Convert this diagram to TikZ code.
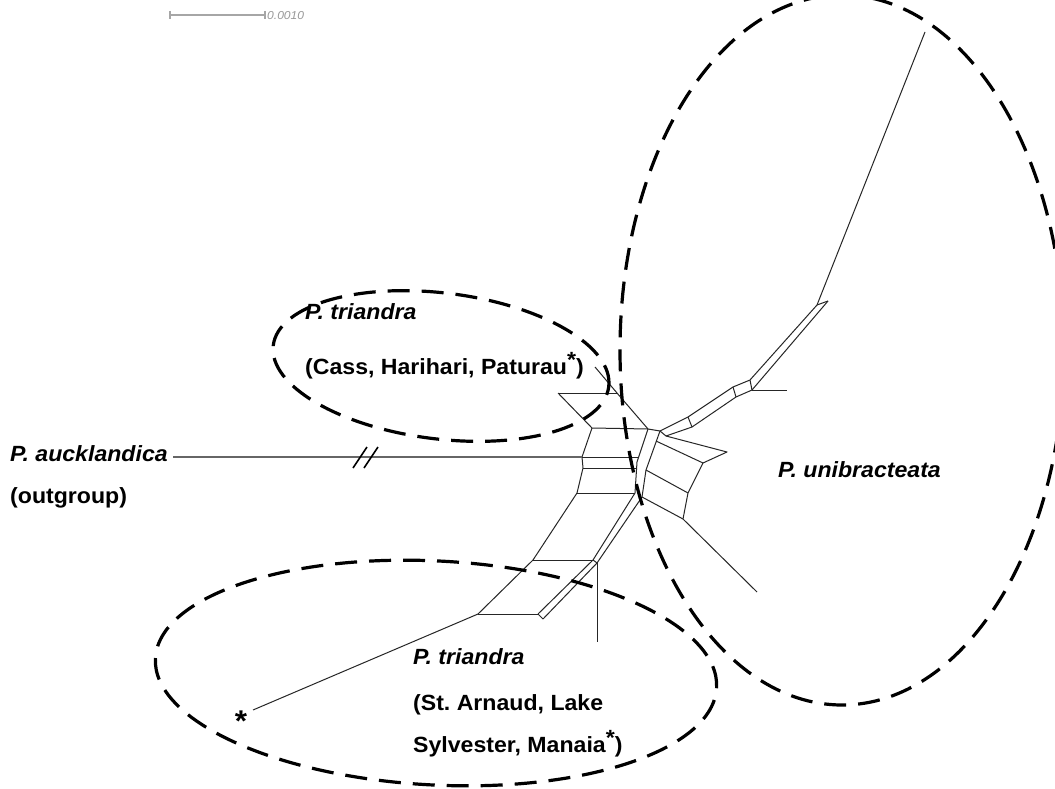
\documentclass[tikz,border=0pt]{standalone}
\usepackage{fontspec}
\setmainfont[FakeStretch=1.05]{Liberation Sans}
\usetikzlibrary{shapes.geometric}
\begin{document}
\begin{tikzpicture}[x=1pt,y=-1pt,
  net/.style={line width=1pt, draw=black!85, line join=round},
  ogline/.style={line width=1.4pt, draw=black!60},
  brk/.style={line width=1.6pt, draw=black},
  grp/.style={draw=black, line width=3.2pt, dash pattern=on 22pt off 12pt, ellipse, inner sep=0pt},
  lbl/.style={anchor=base west, inner sep=0pt, font=\fontsize{22}{26}\selectfont\bfseries},
  ital/.style={lbl, font=\fontsize{22}{26}\selectfont\bfseries\itshape},
  sbar/.style={line width=1.5pt, draw=black!35}
]
\fill[white] (0,0) rectangle (1055,789);
\useasboundingbox (0,0) rectangle (1055,789);
\clip (0,0) rectangle (1055,789);

% ---------- scale bar ----------
\coordinate (s0) at (170,15);
\coordinate (s1) at (265,15);
\draw[sbar] (s0) -- (s1);
\draw[sbar] ([yshift=4pt]s0) -- ([yshift=-4pt]s0);
\draw[sbar] ([yshift=4pt]s1) -- ([yshift=-4pt]s1);
\node[anchor=west, inner sep=0pt, text=black!40, font=\fontsize{11.5}{13}\selectfont\itshape] (scalelab) at (267,16) {0.0010};

% ---------- network coordinates ----------
\coordinate (d1) at (595,367);
\coordinate (la) at (648,429);
\coordinate (lb) at (637,462);
\coordinate (lc) at (635,493);
\coordinate (ra) at (660,431);
\coordinate (rb) at (646,470);
\coordinate (rc) at (642,497);
\coordinate (r1) at (656,441);
\coordinate (rd) at (666,436);

\coordinate (v0) at (558,393);
\coordinate (h0) at (617,393);
\coordinate (v1) at (592,428);
\coordinate (v2) at (582,457);
\coordinate (l2) at (638,457);
\coordinate (v3) at (583,468);
\coordinate (l3) at (637,468);
\coordinate (v4) at (577,493);

\coordinate (w1) at (533,560);
\coordinate (w2) at (478,614);
\coordinate (bl1) at (593,560);
\coordinate (bl2) at (538,614);
\coordinate (br1) at (597,563);
\coordinate (br2) at (543,619);
\coordinate (t1) at (597,642);
\coordinate (stip) at (253,710);

\coordinate (u1) at (688,417);
\coordinate (u2) at (733,387);
\coordinate (u3) at (750,380);
\coordinate (u4) at (817,305);
\coordinate (e1) at (692,427);
\coordinate (e2) at (736,397);
\coordinate (e3) at (752,390);
\coordinate (e4) at (828,301);
\coordinate (hb) at (787,390);
\coordinate (tip) at (925,32);

\coordinate (p1) at (727,452);
\coordinate (p2) at (703,463);
\coordinate (q1) at (688,493);
\coordinate (q2) at (683,519);
\coordinate (qe) at (757,592);

% ---------- network edges ----------
\draw[net] (d1) -- (h0) -- (la);
\draw[net] (v0) -- (h0);
\draw[net] (v0) -- (v1) -- (la);
\draw[net] (v1) -- (v2) -- (v3) -- (v4) -- (w1) -- (w2);
\draw[net] (v2) -- (l2);
\draw[net] (v3) -- (l3);
\draw[net] (v4) -- (lc);
\draw[net] (la) -- (lb) -- (lc) -- (bl1) -- (bl2);
\draw[net] (ra) -- (rb) -- (rc) -- (br1) -- (br2);
\draw[net] (la) -- (ra);
\draw[net] (bl2) -- (br2);
\draw[net] (bl1) -- (br1);
\draw[net] (w1) -- (bl1);
\draw[net] (w2) -- (bl2);
\draw[net] (br1) -- (t1);
\draw[net] (w2) -- (stip);

\draw[net] (ra) -- (u1) -- (u2) -- (u3) -- (u4) -- (tip);
\draw[net] (rd) -- (e1) -- (e2) -- (e3) -- (e4);
\draw[net] (ra) -- (rd);
\draw[net] (u1) -- (e1);
\draw[net] (u2) -- (e2);
\draw[net] (u3) -- (e3);
\draw[net] (u4) -- (e4);
\draw[net] (e3) -- (hb);

\draw[net] (rd) -- (p1) -- (p2);
\draw[net] (r1) -- (p2) -- (q1) -- (q2) -- (qe);
\draw[net] (rb) -- (q1);
\draw[net] (rc) -- (q2);

% ---------- outgroup ----------
\node[ital] (auck) at (10,461) {P. aucklandica};
\node[lbl] (outg) at (10,503) {(outgroup)};
\coordinate (og0) at (173,457);
\draw[ogline] (og0) -- (v2);
\coordinate (k1a) at (353,468); \coordinate (k1b) at (367,447);
\coordinate (k2a) at (364,468); \coordinate (k2b) at (378,447);
\draw[brk] (k1a) -- (k1b);
\draw[brk] (k2a) -- (k2b);

% ---------- group ellipses ----------
\node[grp, minimum width=338pt, minimum height=146pt, rotate=-7] (g1) at (441,366) {};
\node[grp, minimum width=562pt, minimum height=224pt, rotate=-3] (g2) at (436,673) {};
\node[grp, minimum width=444pt, minimum height=710pt] (g3) at (842,350) {};

% ---------- labels ----------
\node[ital] (tri1a) at (305,319) {P. triandra};
\node[lbl] (tri1b) at (305,374) {(Cass, Harihari, Paturau\raisebox{7pt}{*})};
\node[ital] (tri2a) at (413,664) {P. triandra};
\node[lbl] (tri2b) at (413,710) {(St.\ Arnaud, Lake};
\node[lbl] (tri2c) at (413,752) {Sylvester, Manaia\raisebox{7pt}{*})};
\node[ital] (uni) at (778,477) {P. unibracteata};
\node[anchor=base, inner sep=0pt, font=\fontsize{30}{32}\selectfont\bfseries] (star) at (241,731) {*};
\end{tikzpicture}
\end{document}
